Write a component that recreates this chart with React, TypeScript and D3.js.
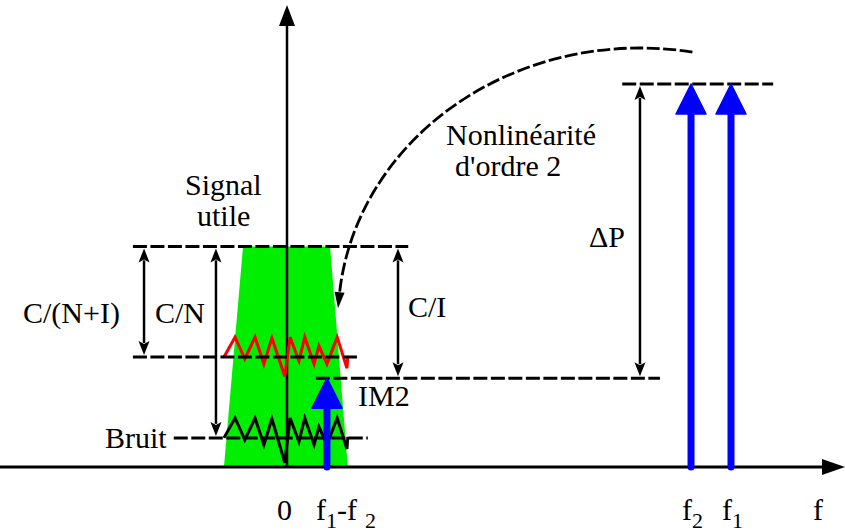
import React from 'react';
import * as d3 from 'd3';

// frequency axis (arbitrary units, 0 = DC, 100 = f1) and power levels (dB-like units)
const toneFreqs = [91, 100];
const toneSubs = ['2', '1'];
const carrierLevel = 100;
const imFreq = 9;
const imLevel = 23.2;

// useful signal band (trapezoid)
const bandBottom = [-14.2, 13.7];
const bandTop = [-9.9, 9.7];
const signalLevel = 57.6;

// dashed reference levels
const guideLevels = [57.6, 28.7, 7.6, 23.2, 100];
const guideStart = [-34.7, -34.7, -25.5, 6.5, 75.5];
const guideEnd = [27.3, 16, 18.2, 84, 109.5];

// dimension arrows
const dimFreqs = [-32.2, -16, 25, 79.5];
const dimTop = [57.6, 57.6, 57.6, 100];
const dimBottom = [28.7, 7.6, 23.2, 23.2];

// noise zigzag samples (frequency, deviation from level)
const noiseFreqs = [-14.2, -11.7, -9.5, -7.2, -5.2, -3.4, -0.5, 0.7, 2.7, 4.0, 6.1, 7.2, 9.0, 11.3, 13.5, 13.7];
const redNoise = [0, 5.2, -0.5, 5.2, -1.8, 5.0, -5.0, 5.2, -1.0, 5.2, -1.8, 2.9, -1.8, 5.2, -2.9, 0.3];
const blackNoise = [0, 5.2, -0.5, 5.2, -1.8, 5.0, -6.5, 5.2, -1.0, 5.2, -1.8, 2.9, -1.8, 5.2, -2.9, 0.3];
const redLevel = 28.7;
const blackLevel = 7.6;

// "nonlinearity" arc: centre (freq, level), radii, start/end angles (deg)
const arcCenter = [79.5, 38.4];
const arcRadii = [68, 71];
const arcAngles = [80, 175];

const W = 845;
const H = 532;
const FONT = "'Liberation Serif', 'Times New Roman', Times, 'DejaVu Serif', serif";

const x = d3.scaleLinear().domain([0, 100]).range([287, 731]);
const y = d3.scaleLinear().domain([0, 100]).range([467, 84]);

const dash = '14 3.5';

function DimArrow({ fx, top, bottom }: { fx: number; top: number; bottom: number }) {
  const px = x(fx);
  const y1 = y(top) + 2;
  const y2 = y(bottom) - 2;
  const hh = 14;
  const hw = 5.5;
  return (
    <g>
      <line x1={px} x2={px} y1={y1 + hh - 2} y2={y2 - hh + 2} stroke="#000" strokeWidth={2.5} />
      <path d={`M${px},${y1} L${px - hw},${y1 + hh} L${px},${y1 + hh - 3} L${px + hw},${y1 + hh} Z`} fill="#000" />
      <path d={`M${px},${y2} L${px - hw},${y2 - hh} L${px},${y2 - hh + 3} L${px + hw},${y2 - hh} Z`} fill="#000" />
    </g>
  );
}

function BlueArrow({ fx, level }: { fx: number; level: number }) {
  const px = x(fx);
  const tip = y(level);
  const hh = 30;
  const hw = 15;
  return (
    <g>
      <line x1={px} x2={px} y1={y(0)} y2={tip + hh - 2} stroke="#0000ff" strokeWidth={7} strokeLinecap="round" />
      <path d={`M${px},${tip} L${px - hw},${tip + hh} L${px + hw},${tip + hh} Z`} fill="#0000ff" stroke="#0000ff" strokeWidth={1.5} strokeLinejoin="round" />
    </g>
  );
}

export default function App() {
  const line = d3.line<[number, number]>().x((d) => d[0]).y((d) => d[1]);

  const band: [number, number][] = [
    [x(bandBottom[0]), y(0)],
    [x(bandTop[0]), y(signalLevel)],
    [x(bandTop[1]), y(signalLevel)],
    [x(bandBottom[1]), y(0)],
  ];

  const redPts: [number, number][] = noiseFreqs.map((f, i) => [x(f), y(redLevel + redNoise[i])]);
  const blackPts: [number, number][] = noiseFreqs.map((f, i) => [x(f), y(blackLevel + blackNoise[i])]);

  // elliptical arc in pixel space
  const cx = x(arcCenter[0]);
  const cy = y(arcCenter[1]);
  const rx = x(arcRadii[0]) - x(0);
  const ry = y(0) - y(arcRadii[1]);
  const a0 = (arcAngles[0] * Math.PI) / 180;
  const a1 = (arcAngles[1] * Math.PI) / 180;
  const sx = cx + rx * Math.cos(a0);
  const sy = cy - ry * Math.sin(a0);
  const ex = cx + rx * Math.cos(a1);
  const ey = cy - ry * Math.sin(a1);
  const arcPath = `M${sx},${sy} A${rx},${ry} 0 0,0 ${ex},${ey}`;
  const tx = -rx * Math.sin(a1);
  const ty = -ry * Math.cos(a1);
  const tl = Math.hypot(tx, ty);
  const ux = tx / tl;
  const uy = ty / tl;
  const tipX = ex + ux * 12;
  const tipY = ey + uy * 12;
  const bx = tipX - ux * 16;
  const by = tipY - uy * 16;
  const head = `M${tipX},${tipY} L${bx - uy * 5},${by + ux * 5} L${bx + uy * 5},${by - ux * 5} Z`;

  const axisY = y(0);
  const axisX = x(0);

  const txt = { style: { fontFamily: FONT, fontSize: '30px' }, fill: '#000' } as const;
  const sub = { style: { fontSize: '22px' } } as const;

  return (
    <div style={{ position: 'fixed', left: 0, top: 0 }}>
      <svg width={W} height={H} style={{ display: 'block', background: '#fff' }}>
        <path d={line(band) + 'Z'} fill="#00ee00" />

        {/* axes */}
        <line x1={0} x2={826} y1={axisY} y2={axisY} stroke="#000" strokeWidth={3} />
        <path d={`M845,${axisY} L822,${axisY - 8} L822,${axisY + 8} Z`} fill="#000" />
        <line x1={axisX} x2={axisX} y1={axisY} y2={22} stroke="#000" strokeWidth={2.5} />
        <path d={`M${axisX},5 L${axisX - 8},26 L${axisX + 8},26 Z`} fill="#000" />

        {/* noise */}
        <path d={line(redPts) ?? ''} fill="none" stroke="#ff0000" strokeWidth={3} strokeLinejoin="miter" />
        <path d={line(blackPts) ?? ''} fill="none" stroke="#000" strokeWidth={3} strokeLinejoin="miter" />

        {/* dashed levels */}
        {guideLevels.map((l, i) => (
          <line key={i} x1={x(guideStart[i])} x2={x(guideEnd[i])} y1={y(l)} y2={y(l)}
            stroke="#000" strokeWidth={3} strokeDasharray={dash} />
        ))}

        {/* dimension arrows */}
        {dimFreqs.map((f, i) => (
          <DimArrow key={i} fx={f} top={dimTop[i]} bottom={dimBottom[i]} />
        ))}

        {/* tones */}
        {toneFreqs.map((f, i) => (
          <BlueArrow key={i} fx={f} level={carrierLevel} />
        ))}
        <BlueArrow fx={imFreq} level={imLevel} />

        {/* nonlinearity arrow */}
        <path d={arcPath} fill="none" stroke="#000" strokeWidth={2.8} strokeDasharray="13 3.5" />
        <path d={head} fill="#000" />

        {/* labels */}
        <text {...txt} x={185} y={195}>Signal</text>
        <text {...txt} x={197} y={226}>utile</text>
        <text {...txt} x={446} y={145}>Nonlinéarité</text>
        <text {...txt} x={455} y={176}>d'ordre 2</text>
        <text {...txt} x={589} y={247}>ΔP</text>
        <text {...txt} x={23} y={323}>C/(N+I)</text>
        <text {...txt} x={155} y={323}>C/N</text>
        <text {...txt} x={408} y={317}>C/I</text>
        <text {...txt} x={105} y={448}>Bruit</text>
        <text {...txt} x={358} y={406}>IM2</text>

        <text {...txt} x={277} y={520}>0</text>
        <text {...txt} x={316} y={520}>
          f<tspan {...sub} dy={8}>1</tspan><tspan dy={-8}>-f</tspan><tspan {...sub} dx={8} dy={8}>2</tspan>
        </text>
        {toneFreqs.map((f, i) => (
          <text key={i} {...txt} x={x(f) - 9} y={520}>
            f<tspan {...sub} dy={8}>{toneSubs[i]}</tspan>
          </text>
        ))}
        <text {...txt} x={813} y={520}>f</text>
      </svg>
    </div>
  );
}
